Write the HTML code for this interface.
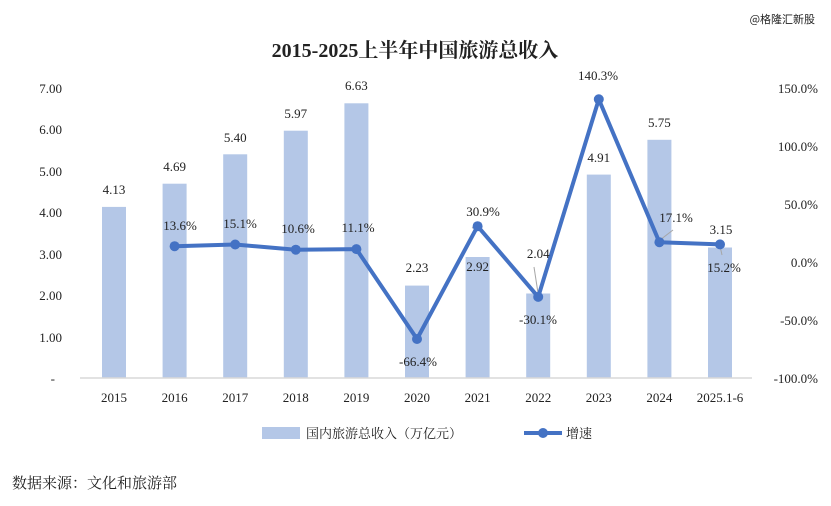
<!DOCTYPE html>
<html><head><meta charset="utf-8"><style>
body{margin:0;background:#fff}
text{font-family:"Liberation Serif","Noto Serif CJK SC",serif;fill:#222}
.cn{font-family:"Liberation Serif","Noto Serif CJK SC","Noto Sans CJK SC",serif}
</style></head><body>
<svg width="831" height="501" viewBox="0 0 831 501" xmlns="http://www.w3.org/2000/svg">
<rect width="831" height="501" fill="#fff"/>
<text x="815" y="23" font-size="11" text-anchor="end" class="cn" style="font-family:'Noto Sans CJK SC',sans-serif">@格隆汇新股</text>
<text x="415" y="57" font-size="20" font-weight="bold" text-anchor="middle" class="cn">2015-2025上半年中国旅游总收入</text>
<g font-size="13" text-anchor="end">
<text x="62" y="93">7.00</text><text x="62" y="134">6.00</text><text x="62" y="176">5.00</text>
<text x="62" y="217">4.00</text><text x="62" y="259">3.00</text><text x="62" y="300">2.00</text>
<text x="62" y="342">1.00</text><text x="55" y="383">-</text>
</g>
<g font-size="13" text-anchor="end">
<text x="818" y="93">150.0%</text><text x="818" y="151">100.0%</text><text x="818" y="209">50.0%</text>
<text x="818" y="267">0.0%</text><text x="818" y="325">-50.0%</text><text x="818" y="383">-100.0%</text>
</g>
<g fill="#b4c7e7">
<rect x="102" y="206.9" width="24" height="171.1"/>
<rect x="162.6" y="183.7" width="24" height="194.3"/>
<rect x="223.2" y="154.3" width="24" height="223.7"/>
<rect x="283.8" y="130.7" width="24" height="247.3"/>
<rect x="344.4" y="103.3" width="24" height="274.7"/>
<rect x="405" y="285.6" width="24" height="92.4"/>
<rect x="465.6" y="257" width="24" height="121"/>
<rect x="526.2" y="293.5" width="24" height="84.5"/>
<rect x="586.8" y="174.6" width="24" height="203.4"/>
<rect x="647.4" y="139.8" width="24" height="238.2"/>
<rect x="708" y="247.5" width="24" height="130.5"/>
</g>
<line x1="80" y1="378" x2="752" y2="378" stroke="#d9d9d9" stroke-width="1.5"/>
<g font-size="13" text-anchor="middle">
<text x="114" y="402">2015</text><text x="174.6" y="402">2016</text><text x="235.2" y="402">2017</text>
<text x="295.8" y="402">2018</text><text x="356.4" y="402">2019</text><text x="417" y="402">2020</text>
<text x="477.6" y="402">2021</text><text x="538.2" y="402">2022</text><text x="598.8" y="402">2023</text>
<text x="659.4" y="402">2024</text><text x="720" y="402">2025.1-6</text>
</g>
<g stroke="#a6a6a6" stroke-width="1">
<line x1="472" y1="228" x2="477" y2="226"/>
<line x1="534" y1="267" x2="538" y2="293"/>
<line x1="660" y1="240" x2="673" y2="230"/>
<line x1="720" y1="246" x2="722" y2="255"/>
</g>
<polyline fill="none" stroke="#4472c4" stroke-width="4" stroke-linejoin="round" points="174.6,246.2 235.2,244.5 295.8,249.7 356.4,249.1 417,339 477.6,226.2 538.2,296.9 598.8,99.3 659.4,242.2 720,244.4"/>
<g fill="#4472c4">
<circle cx="174.6" cy="246.2" r="5"/><circle cx="235.2" cy="244.5" r="5"/><circle cx="295.8" cy="249.7" r="5"/>
<circle cx="356.4" cy="249.1" r="5"/><circle cx="417" cy="339" r="5"/><circle cx="477.6" cy="226.2" r="5"/>
<circle cx="538.2" cy="296.9" r="5"/><circle cx="598.8" cy="99.3" r="5"/><circle cx="659.4" cy="242.2" r="5"/>
<circle cx="720" cy="244.4" r="5"/>
</g>
<g font-size="13" text-anchor="middle">
<text x="114" y="194">4.13</text><text x="174.6" y="171">4.69</text><text x="235.2" y="142">5.40</text>
<text x="295.8" y="118">5.97</text><text x="356.4" y="90">6.63</text><text x="417" y="272">2.23</text>
<text x="477.6" y="271">2.92</text><text x="538.2" y="258">2.04</text><text x="598.8" y="162">4.91</text>
<text x="659.4" y="127">5.75</text><text x="721" y="234">3.15</text>
<text x="180" y="230">13.6%</text><text x="240" y="228">15.1%</text><text x="298" y="233">10.6%</text>
<text x="358" y="232">11.1%</text><text x="418" y="366">-66.4%</text><text x="483" y="216">30.9%</text>
<text x="538" y="324">-30.1%</text><text x="598" y="80">140.3%</text><text x="676" y="222">17.1%</text>
<text x="724" y="272">15.2%</text>
</g>
<rect x="262" y="427" width="38" height="12" fill="#b4c7e7"/>
<text x="306" y="438" font-size="13" class="cn">国内旅游总收入（万亿元）</text>
<line x1="524" y1="433" x2="562" y2="433" stroke="#4472c4" stroke-width="4"/>
<circle cx="543" cy="433" r="5" fill="#4472c4"/>
<text x="566" y="438" font-size="13" class="cn">增速</text>
<text x="12" y="488" font-size="15" class="cn">数据来源：文化和旅游部</text>
</svg>
</body></html>
